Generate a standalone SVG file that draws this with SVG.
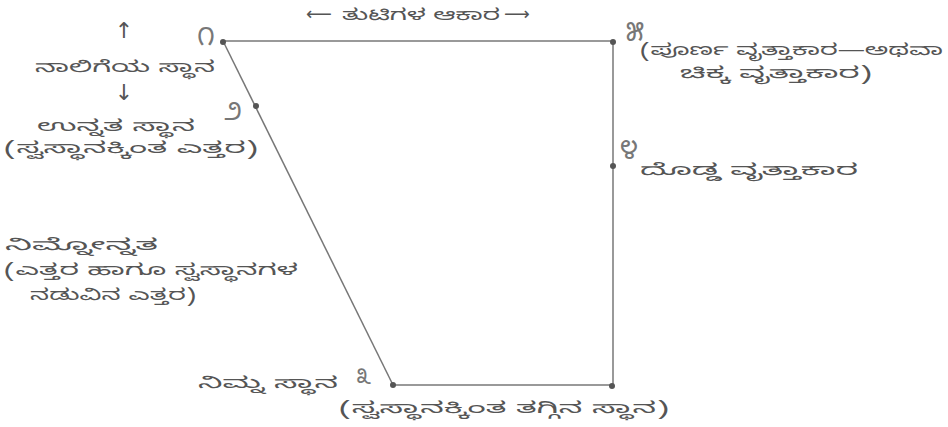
<svg xmlns="http://www.w3.org/2000/svg" width="948" height="427" viewBox="0 0 948 427">
<style>
.t{font-family:"Noto Sans Kannada","Noto Serif Kannada","Noto Sans","DejaVu Sans",sans-serif;font-size:16px;fill:#555}
.a{font-family:"DejaVu Sans",sans-serif;font-size:18px;fill:#555}
.v{font-family:"DejaVu Sans",sans-serif;font-size:22px;fill:#555}
.n{font-family:"Noto Sans Kannada","Noto Sans",sans-serif;font-size:26px;fill:#777}
.e{stroke:#777;stroke-width:1.5;fill:none}
.d{fill:#555}
</style>
<rect width="948" height="427" fill="#fff"/>
<g id="connectors">
<line class="e" x1="223" y1="41" x2="613" y2="41"/>
<line class="e" x1="613" y1="41" x2="613" y2="386"/>
<line class="e" x1="393" y1="385" x2="613" y2="385"/>
<line class="e" x1="223" y1="41" x2="393" y2="385"/>
</g>
<g id="n1"><circle class="d" cx="223" cy="42" r="3"/><text class="n" x="206" y="45" text-anchor="middle">೧</text></g>
<g id="n2"><circle class="d" cx="256" cy="106" r="3"/><text class="n" x="233" y="120" text-anchor="middle">೨</text></g>
<g id="n3"><circle class="d" cx="393" cy="385" r="3"/><text class="n" x="363" y="384" text-anchor="middle" style="font-size:22px">೩</text></g>
<g id="n4"><circle class="d" cx="613" cy="166" r="3"/><text class="n" x="629" y="159" text-anchor="middle">೪</text></g>
<g id="n5"><circle class="d" cx="613" cy="42" r="3"/><circle class="d" cx="612" cy="386" r="3"/><text class="n" x="635" y="41" text-anchor="middle">೫</text></g>
<g id="lips">
<text class="a" x="306" y="20">⟵</text>
<text class="t" x="342" y="20" textLength="158" lengthAdjust="spacingAndGlyphs">ತುಟಿಗಳ ಆಕಾರ</text>
<text class="a" x="504" y="20">⟶</text>
</g>
<g id="tongue">
<text class="v" x="124" y="38" text-anchor="middle">↑</text>
<text class="t" x="35" y="72" textLength="180" lengthAdjust="spacingAndGlyphs">ನಾಲಿಗೆಯ ಸ್ಥಾನ</text>
<text class="v" x="124" y="100" text-anchor="middle">↓</text>
</g>
<g id="high">
<text class="t" x="37" y="131" textLength="158" lengthAdjust="spacingAndGlyphs">ಉನ್ನತ ಸ್ಥಾನ</text>
<text class="t" x="4" y="153" textLength="254" lengthAdjust="spacingAndGlyphs">(ಸ್ವಸ್ಥಾನಕ್ಕಿಂತ ಎತ್ತರ)</text>
</g>
<g id="mid">
<text class="t" x="5" y="250" textLength="153" lengthAdjust="spacingAndGlyphs">ನಿಮ್ನೋನ್ನತ</text>
<text class="t" x="4" y="275" textLength="294" lengthAdjust="spacingAndGlyphs">(ಎತ್ತರ ಹಾಗೂ ಸ್ವಸ್ಥಾನಗಳ</text>
<text class="t" x="30" y="300" textLength="166" lengthAdjust="spacingAndGlyphs">ನಡುವಿನ ಎತ್ತರ)</text>
</g>
<g id="low">
<text class="t" x="198" y="388" textLength="140" lengthAdjust="spacingAndGlyphs">ನಿಮ್ನ ಸ್ಥಾನ</text>
<text class="t" x="339" y="413" textLength="330" lengthAdjust="spacingAndGlyphs">(ಸ್ವಸ್ಥಾನಕ್ಕಿಂತ ತಗ್ಗಿನ ಸ್ಥಾನ)</text>
</g>
<g id="round">
<text class="t" x="640" y="55" textLength="303" lengthAdjust="spacingAndGlyphs">(ಪೂರ್ಣ ವೃತ್ತಾಕಾರ—ಅಥವಾ</text>
<text class="t" x="680" y="78" textLength="192" lengthAdjust="spacingAndGlyphs">ಚಿಕ್ಕ ವೃತ್ತಾಕಾರ)</text>
</g>
<g id="wide">
<text class="t" x="640" y="175" textLength="218" lengthAdjust="spacingAndGlyphs">ದೊಡ್ಡ ವೃತ್ತಾಕಾರ</text>
</g>
</svg>
